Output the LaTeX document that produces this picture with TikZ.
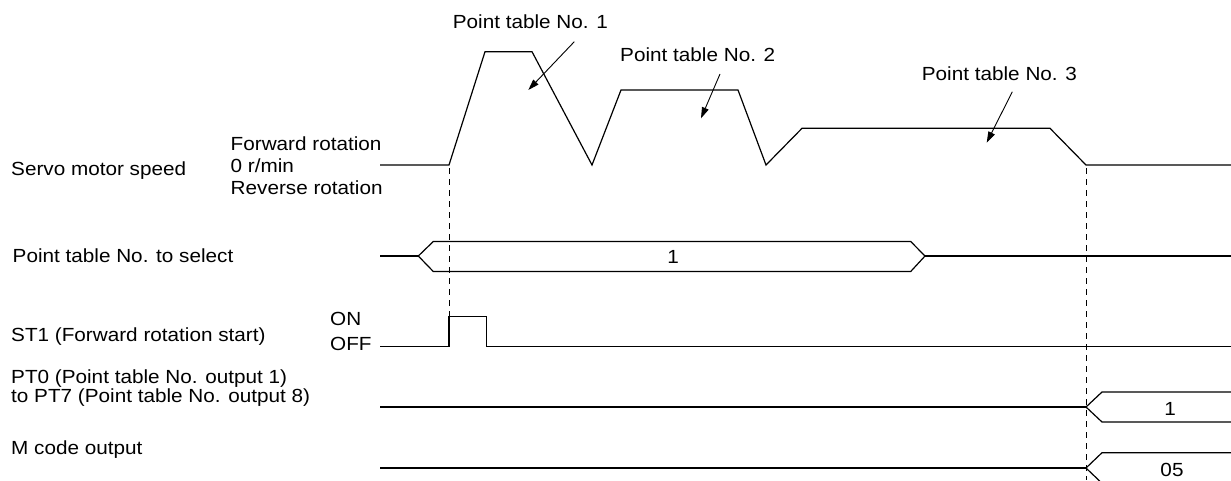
\documentclass[tikz,border=0pt]{standalone}
\usepackage{fontspec}
\setmainfont{Liberation Sans}[FakeStretch=1.09]
\usetikzlibrary{arrows.meta}
\begin{document}
\begin{tikzpicture}[x=1pt,y=-1pt,
  wave/.style={line width=1.2pt, line join=miter},
  vguide/.style={line width=0.9pt, dash pattern=on 6pt off 5pt},
  lbl/.style={anchor=base west, inner sep=0pt, font=\fontsize{19}{22}\selectfont},
  clbl/.style={anchor=base, inner sep=0pt, font=\fontsize{19}{22}\selectfont},
  arr/.style={line width=0.9pt, -{Triangle[length=11pt,width=7pt]}}]
\clip (0,0) rectangle (1231,480);
\fill[white] (0,0) rectangle (1231,480);

% ---- labels on the left
\node[lbl] (servo) at (11,175) {Servo motor speed};
\node[lbl] (fwd) at (230.5,150.5) {Forward rotation};
\node[lbl] (zero) at (230.5,172) {0 r/min};
\node[lbl] (rev) at (230.5,194) {Reverse rotation};
\node[lbl] (sel) at (12.5,262.5) {Point table No. to select};
\node[lbl] (st1) at (11,341.5) {ST1 (Forward rotation start)};
\node[lbl] (on) at (330,325) {ON};
\node[lbl] (off) at (330,350) {OFF};
\node[lbl] (pt0) at (11,383) {PT0 (Point table No. output 1)};
\node[lbl] (pt7) at (11,402) {to PT7 (Point table No. output 8)};
\node[lbl] (mcode) at (11,454.3) {M code output};

% ---- top labels
\node[lbl] (pt1) at (452.7,28.3) {Point table No. 1};
\node[lbl] (pt2) at (620,61.7) {Point table No. 2};
\node[lbl] (pt3) at (921.7,80) {Point table No. 3};

% ---- speed waveform
\draw[wave] (380,165) -- (449,165) -- (485,51.7) -- (532,51.7) -- (592,165)
  -- (621,90) -- (738,90) -- (766,165) -- (802,128.3) -- (1050,128.3)
  -- (1086,165) -- (1231,165);

% ---- arrows to the profiles
\coordinate (a1s) at (574.3,41.7); \coordinate (a1e) at (528.3,90);
\coordinate (a2s) at (720,74);     \coordinate (a2e) at (701,118.3);
\coordinate (a3s) at (1012.3,91.7); \coordinate (a3e) at (986.7,142.7);
\draw[arr] (a1s) -- (a1e);
\draw[arr] (a2s) -- (a2e);
\draw[arr] (a3s) -- (a3e);

% ---- point table No. to select bus
\draw[wave] (380,256) -- (418.3,256);
\draw[wave] (925,256) -- (1231,256);
\draw[wave] (418.3,256) -- (433.3,241.5) -- (910.7,241.5) -- (925,256)
  -- (910.7,271.5) -- (433.3,271.5) -- cycle;
\node[clbl] (sel1) at (673,263) {1};

% ---- ST1 pulse
\draw[wave] (380,346.7) -- (449,346.7) -- (449,316.7) -- (486.7,316.7)
  -- (486.7,346.7) -- (1231,346.7);

% ---- PT0..PT7 bus
\draw[wave] (380,407) -- (1086,407);
\draw[wave] (1231,392) -- (1102,392) -- (1086,407) -- (1102,422) -- (1231,422);
\node[clbl] (ptout) at (1170,415.5) {1};

% ---- M code bus
\draw[wave] (380,468) -- (1086,468);
\draw[wave] (1231,452.7) -- (1102,452.7) -- (1086,468) -- (1102,483.3) -- (1231,483.3);
\node[clbl] (mc) at (1172,476) {05};

% ---- vertical guides
\coordinate (g1t) at (449,168); \coordinate (g1b) at (449,316.7);
\coordinate (g2t) at (1086.5,168); \coordinate (g2b) at (1086.5,480);
\draw[vguide] (g1t) -- (g1b);
\draw[vguide] (g2t) -- (g2b);
\end{tikzpicture}
\end{document}
